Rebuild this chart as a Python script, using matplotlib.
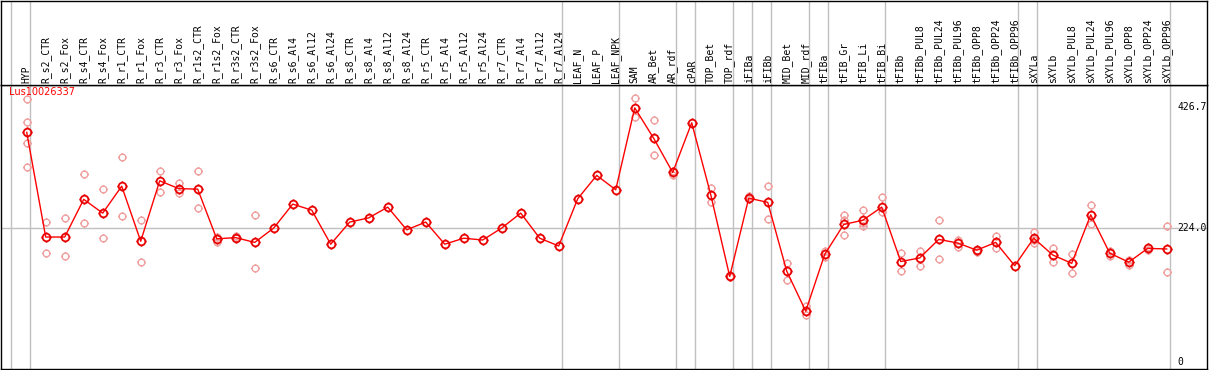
import matplotlib
matplotlib.use("Agg")
import matplotlib.pyplot as plt
from matplotlib.path import Path

# Data
categories = [
    'HYP', 'R_s2_CTR', 'R_s2_Fox', 'R_s4_CTR', 'R_s4_Fox', 'R_r1_CTR', 'R_r1_Fox',
    'R_r3_CTR', 'R_r3_Fox', 'R_r1s2_CTR', 'R_r1s2_Fox', 'R_r3s2_CTR', 'R_r3s2_Fox',
    'R_s6_CTR', 'R_s6_Al4', 'R_s6_Al12', 'R_s6_Al24', 'R_s8_CTR', 'R_s8_Al4',
    'R_s8_Al12', 'R_s8_Al24', 'R_r5_CTR', 'R_r5_Al4', 'R_r5_Al12', 'R_r5_Al24',
    'R_r7_CTR', 'R_r7_Al4', 'R_r7_Al12', 'R_r7_Al24', 'LEAF_N', 'LEAF_P', 'LEAF_NPK',
    'SAM', 'AR_Bet', 'AR_rdf', 'cPAR', 'TOP_Bet', 'TOP_rdf', 'iFIBa', 'iFIBb',
    'MID_Bet', 'MID_rdf', 'tFIBa', 'tFIB_Gr', 'tFIB_Li', 'tFIB_Bi', 'tFIBb',
    'tFIBb_PUL8', 'tFIBb_PUL24', 'tFIBb_PUL96', 'tFIBb_OPP8', 'tFIBb_OPP24',
    'tFIBb_OPP96', 'sXYLa', 'sXYLb', 'sXYLb_PUL8', 'sXYLb_PUL24', 'sXYLb_PUL96',
    'sXYLb_OPP8', 'sXYLb_OPP24', 'sXYLb_OPP96'
]
mean_values = [
    384, 209, 209, 272, 249, 294, 202, 303, 290, 289, 206, 208, 200,
    224, 264, 254, 197, 234, 241, 259, 221, 234, 197, 207, 204,
    224, 249, 207, 194, 273, 312, 288,
    425, 374, 317, 400, 280, 143, 274, 267, 152, 85,
    180, 230, 237, 259, 168, 174, 205, 199, 187, 200, 161,
    207, 179, 165, 246, 182, 167, 190, 189
]
replicates = [
    [439, 402, 367, 326], [234, 183], [241, 177], [314, 232], [289, 207],
    [342, 244], [237, 167], [320, 285], [299, 282], [320, 257], [209, 201],
    [210, 207], [245, 157],
    [], [], [], [], [], [], [], [], [], [], [], [], [], [], [], [], [], [], [],
    [441, 410], [404, 346], [320, 312], [], [291, 268], [144, 142],
    [278, 272], [295, 239], [166, 137], [94, 78],
    [185, 175], [245, 237, 212], [254, 227, 233], [276, 250], [182, 153],
    [186, 161], [237, 173], [204, 193], [188, 184], [211, 190], [],
    [218, 199, 204], [190, 168], [181, 149], [262, 231], [185, 178],
    [171, 163], [192, 187], [227, 150]
]
group_ends = [-1, 0, 28, 31, 34, 35, 37, 38, 39, 41, 42, 45, 52, 53, 60]
ref_ticks = [426.7, 224.0, 0]
gene_name = 'Lus10026337'

W, H = 1209, 370
fig = plt.figure(figsize=(W / 100, H / 100), dpi=100)

xlim = (-1.353, 62.12)
ax = fig.add_axes([1 / W, 1 - 369 / H, 1206 / W, 284 / H])
hx = fig.add_axes([1 / W, 1 - 85 / H, 1206 / W, 84.5 / H])

for a in (ax, hx):
    a.set_xlim(*xlim)
    a.set_xticks([])
    a.set_yticks([])
    for s in a.spines.values():
        s.set_linewidth(1.0)
        s.set_color('black')
    for g in group_ends:
        a.axvline(g + 0.19, color='#c0c0c0', lw=1.0, zorder=0)

ax.set_ylim(-11.7, 463.2)
hx.set_ylim(0, 1)
ax.axhline(224.0, color='#c0c0c0', lw=1.0, zorder=0)

# circle marker with little ticks
circ = Path.unit_circle()
ticks = Path([(0, 1), (0, 1.3), (0, -1), (0, -1.3), (1, 0), (1.3, 0), (-1, 0), (-1.3, 0)],
             [Path.MOVETO, Path.LINETO] * 4)
mk = Path.make_compound_path(circ, ticks)

xs = list(range(len(categories)))
for i, reps in enumerate(replicates):
    if reps:
        ax.plot([i] * len(reps), reps, linestyle='none', marker=mk, markersize=6.3,
                markerfacecolor='none', markeredgecolor='#f0a0a0', markeredgewidth=1.0, zorder=2)

ax.plot(xs, mean_values, color='red', lw=1.0, zorder=3)
ax.plot(xs, mean_values, linestyle='none', marker=mk, markersize=7.2,
        markerfacecolor='none', markeredgecolor='#e80000', markeredgewidth=1.3, zorder=4)

ax.text(0.0065, 0.975, gene_name, transform=ax.transAxes, color='red',
        fontsize=7, family='DejaVu Sans', ha='left', va='center')

for t in ref_ticks:
    ax.text(0.9755, t, '%g' % t if t == 0 else '%.1f' % t,
            transform=ax.get_yaxis_transform(), fontsize=7, family='DejaVu Sans Mono',
            ha='left', va='center')

for i, c in enumerate(categories):
    hx.text(i, 0.025, c, rotation=90, ha='center', va='bottom',
            fontsize=7, family='DejaVu Sans Mono')

fig.savefig('out.png', dpi=100)
